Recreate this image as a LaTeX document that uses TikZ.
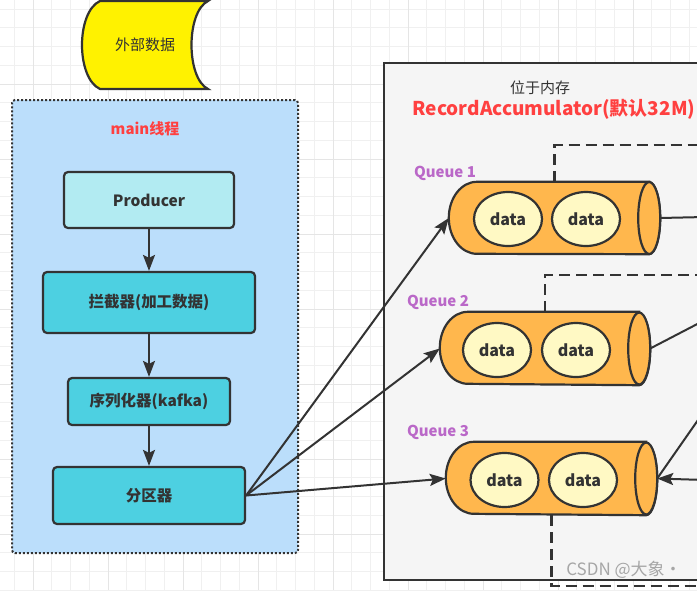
\documentclass[tikz,border=0pt]{standalone}
\usepackage{fontspec}
\setmainfont{Noto Sans CJK SC}
\definecolor{inkgray}{HTML}{333333}
\definecolor{threadblue}{HTML}{BBDEFB}
\definecolor{prodcyan}{HTML}{B2EBF2}
\definecolor{stepcyan}{HTML}{4DD0E1}
\definecolor{memgray}{HTML}{F5F5F5}
\definecolor{queueorange}{HTML}{FFB74D}
\definecolor{datayellow}{HTML}{FFF9C4}
\definecolor{titlered}{RGB}{255, 64, 64}
\definecolor{queuepurple}{HTML}{BA68C8}
\usetikzlibrary{shapes.geometric, arrows.meta, positioning, calc}

\begin{document}
\begin{tikzpicture}[x=1pt, y=-1pt,
  stepbox/.style={draw=inkgray, line width=2.2pt, rounded corners=4pt, text=inkgray, font=\fontsize{15.5pt}{18pt}\selectfont\bfseries},
  flow/.style={draw=inkgray, line width=2pt, -{Stealth[length=16pt, width=12pt, inset=3pt]}},
  link/.style={draw=inkgray, line width=2pt},
  queue/.style={rectangle, minimum width=211pt, minimum height=72pt, inner sep=0pt},
  cyl/.style={draw=inkgray, line width=2.2pt, fill=queueorange},
  datum/.style={ellipse, draw=inkgray, line width=2.2pt, fill=datayellow, minimum width=68pt, minimum height=54pt, inner sep=0pt, text=inkgray, font=\fontsize{16pt}{18pt}\selectfont\bfseries},
  qlabel/.style={text=queuepurple, font=\fontsize{15pt}{18pt}\selectfont\bfseries},
  trail/.style={draw=inkgray, line width=2.2pt, dash pattern=on 11pt off 6pt}]
  \useasboundingbox (0,0) rectangle (697,590);
  \fill[white] (0,0) rectangle (697,590);

  % background grid
  \foreach \gx in {-4.5,14.25,...,700} \draw[black!6, line width=0.8pt] (\gx,0) -- (\gx,590);
  \foreach \gy in {9,27.75,...,592} \draw[black!6, line width=0.8pt] (0,\gy) -- (697,\gy);
  \foreach \gx in {33,108,...,700} \draw[black!10, line width=0.8pt] (\gx,0) -- (\gx,590);
  \foreach \gy in {84,159,...,592} \draw[black!10, line width=0.8pt] (0,\gy) -- (697,\gy);

  % external data
  \draw[inkgray, line width=2.2pt, fill=yellow]
    (208,1) -- (100,1) .. controls (76,12) and (76,78) .. (100,89) -- (208,89)
    .. controls (186,78) and (186,12) .. (208,1) -- cycle;
  \node[text=inkgray] (ext) at (145,45) {\fontsize{15pt}{18pt}\selectfont 外部数据};

  % main thread
  \node[draw=inkgray, fill=threadblue, line width=2pt, dash pattern=on 2pt off 2pt, rounded corners=3pt, minimum width=286pt, minimum height=453pt] (mainbox) at (155,326.5) {};
  \node[text=titlered, font=\fontsize{15pt}{18pt}\selectfont\bfseries] (mainlab) at (145,129) {main线程};

  \node[stepbox, fill=prodcyan, minimum width=170pt, minimum height=56pt] (prod) at (149,200) {Producer};
  \node[stepbox, fill=stepcyan, minimum width=212pt, minimum height=61pt] (inter) at (149,302.5) {拦截器(加工数据)};
  \node[stepbox, fill=stepcyan, minimum width=162pt, minimum height=47pt] (ser) at (149,401.5) {序列化器(kafka)};
  \node[stepbox, fill=stepcyan, minimum width=192pt, minimum height=57pt] (part) at (149,495.5) {分区器};

  \draw[flow] (prod) -- (inter);
  \draw[flow] (inter) -- (ser);
  \draw[flow] (ser) -- (part);

  % accumulator in memory
  \node[draw=inkgray, fill=memgray, line width=2.2pt, minimum width=340pt, minimum height=517pt] (mem) at (554,321.5) {};
  \node[text=inkgray, font=\fontsize{15pt}{18pt}\selectfont] (memlab) at (540,88) {位于内存};
  \node[text=titlered, font=\fontsize{19pt}{22pt}\selectfont\bfseries] (acclab) at (554,109) {RecordAccumulator(默认32M)};

  % queues
  \node[queue] (q1) at (554.5,218) {};
  \node[queue, minimum width=210pt, minimum height=73pt] (q2) at (545,348.5) {};
  \node[queue, minimum height=73pt] (q3) at (551.5,478.5) {};

  \coordinate (t1) at (705,145);
  \coordinate (t2) at (705,275);
  \coordinate (t3) at (705,586);
  \draw[trail] (q1.north) |- (t1);
  \draw[trail] (q2.north) |- (t2);
  \draw[trail] (q3.south) |- (t3);

  \foreach \q in {q1,q2,q3} {
    \draw[cyl] ($(\q.north east)+(-11,0)$) -- ($(\q.north west)+(28,0)$)
      arc[start angle=270, end angle=90, x radius=28, y radius=36]
      -- ($(\q.south east)+(-11,0)$)
      arc[start angle=90, end angle=-90, x radius=11, y radius=36] -- cycle;
    \draw[cyl] ($(\q.east)+(-11,0)$) ellipse [x radius=11, y radius=36];
  }

  \node[qlabel] (q1lab) at (445,173) {Queue 1};
  \node[qlabel] (q2lab) at (438,302) {Queue 2};
  \node[qlabel] (q3lab) at (438,432) {Queue 3};

  \node[datum] (d11) at (508,219) {data};
  \node[datum] (d12) at (586,219) {data};
  \node[datum] (d21) at (497,350) {data};
  \node[datum] (d22) at (576,350) {data};
  \node[datum] (d31) at (504.5,480) {data};
  \node[datum] (d32) at (583,480) {data};

  % partitioner to queues
  \draw[flow] (part.east) -- (q1.west);
  \draw[flow] (part.east) -- (q2.west);
  \draw[flow] (part.east) -- (q3.west);

  % links leaving on the right
  \coordinate (r1) at (705,217);
  \coordinate (r2) at (705,320);
  \coordinate (r3) at (705,410);
  \coordinate (r4) at (705,480);
  \draw[link] (q1.east) -- (r1);
  \draw[link] (q2.east) -- (r2);
  \draw[link] (r3) -- (q3.east);
  \draw[flow] (r4) -- (q3.east);

  \node[text=black!35, font=\fontsize{17pt}{18pt}\selectfont] (mark) at (624,570) {CSDN @大象·};
\end{tikzpicture}
\end{document}
